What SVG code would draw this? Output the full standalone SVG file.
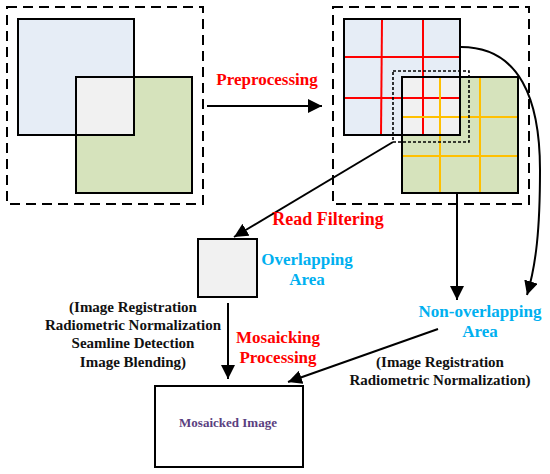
<svg xmlns="http://www.w3.org/2000/svg" width="550" height="474" viewBox="0 0 550 474">
<defs>
<style>
.dash{fill:none;stroke:#000;stroke-width:2;stroke-dasharray:10,6}
.dot{fill:none;stroke:#000;stroke-width:1.6;stroke-dasharray:3,2}
.sq{fill:none;stroke:#000;stroke-width:2}
.blue{fill:#E6EDF6}
.green{fill:#D6E3BC}
.grey{fill:#F1F1F1}
.red{stroke:#FF0000;stroke-width:2}
.org{stroke:#FFC000;stroke-width:2}
.con{fill:none;stroke:#000;stroke-width:2}
text{font-family:"Liberation Serif","Times New Roman",serif;font-weight:bold;text-anchor:middle}
.tr{fill:#FF0000;font-size:17px}
.tc{fill:#00B0F0;font-size:17px}
.tb{fill:#111;font-size:15px}
</style>
<marker id="ah" viewBox="0 0 10 10" refX="10" refY="5" markerWidth="14" markerHeight="14" markerUnits="userSpaceOnUse" orient="auto">
<path d="M0,0 L10,5 L0,10 Z" fill="#000"/>
</marker>
</defs>

<g id="source-images">
<rect class="dash" x="7" y="7" width="196" height="197"/>
<rect class="blue" x="18" y="19" width="116" height="116"/>
<rect class="green" x="76" y="77" width="116" height="116"/>
<rect class="grey" x="76" y="77" width="58" height="58"/>
<rect class="sq" x="18" y="19" width="116" height="116"/>
<rect class="sq" x="76" y="77" width="116" height="116"/>
</g>

<g id="preprocessed-images">
<rect class="dash" x="333" y="7" width="196" height="197"/>
<rect class="blue" x="344" y="19" width="116" height="116"/>
<rect class="green" x="402" y="77" width="116" height="116"/>
<rect class="grey" x="402" y="77" width="58" height="58"/>
<line class="red" x1="382" y1="19" x2="381" y2="135"/>
<line class="red" x1="423" y1="19" x2="423" y2="135"/>
<line class="red" x1="344" y1="57" x2="460" y2="57"/>
<line class="red" x1="344" y1="98" x2="460" y2="98"/>
<line class="org" x1="440" y1="77" x2="440" y2="193"/>
<line class="org" x1="480" y1="77" x2="480" y2="193"/>
<line class="org" x1="402" y1="117" x2="518" y2="117"/>
<line class="org" x1="402" y1="156" x2="518" y2="156"/>
<rect class="sq" x="344" y="19" width="116" height="116"/>
<rect class="sq" x="402" y="77" width="116" height="116"/>
<rect class="dot" x="393" y="71" width="76" height="71"/>
</g>

<g id="overlapping-area">
<rect class="grey" x="198" y="239" width="59" height="58" stroke="#000" stroke-width="2"/>
<text class="tc" x="307" y="265">Overlapping</text>
<text class="tc" x="307" y="285">Area</text>
</g>

<g id="non-overlapping-area">
<text class="tc" x="480" y="317">Non-overlapping</text>
<text class="tc" x="480" y="337">Area</text>
</g>

<g id="mosaicked-image">
<rect x="155" y="386" width="148" height="81" fill="#fff" stroke="#000" stroke-width="2"/>
<text x="228" y="427" style="font-size:13px;fill:#5A4080">Mosaicked Image</text>
</g>

<g id="connectors">
<line class="con" x1="207" y1="106" x2="322" y2="106" marker-end="url(#ah)"/>
<line class="con" x1="393" y1="142" x2="234" y2="237" marker-end="url(#ah)"/>
<line class="con" x1="457" y1="194" x2="457" y2="300" marker-end="url(#ah)"/>
<path class="con" d="M461,47 C520,47 540,100 540,170 C540,230 536,265 527,295" marker-end="url(#ah)"/>
<line class="con" x1="228" y1="303" x2="228" y2="379" marker-end="url(#ah)"/>
<line class="con" x1="438" y1="329" x2="288" y2="382" marker-end="url(#ah)"/>
</g>

<g id="labels">
<text class="tr" x="267" y="85">Preprocessing</text>
<text class="tr" x="328" y="225" style="font-size:18px">Read Filtering</text>
<text class="tr" x="278" y="343">Mosaicking</text>
<text class="tr" x="278" y="363">Processing</text>
<text class="tb" x="133" y="312">(Image Registration</text>
<text class="tb" x="133" y="330">Radiometric Normalization</text>
<text class="tb" x="133" y="348">Seamline Detection</text>
<text class="tb" x="133" y="367">Image Blending)</text>
<text class="tb" x="440" y="367">(Image Registration</text>
<text class="tb" x="440" y="385">Radiometric Normalization)</text>
</g>
</svg>
